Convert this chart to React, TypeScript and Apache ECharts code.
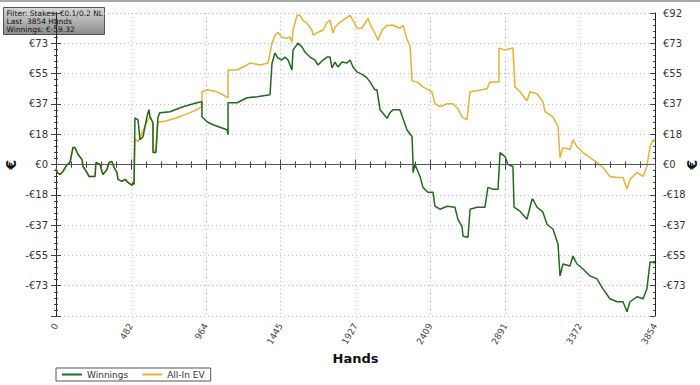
import React, { useEffect, useRef } from "react";
import * as echarts from "echarts";

const xTickLabels = ["0", "482", "964", "1445", "1927", "2409", "2891", "3372", "3854"];
const totalHands = 3854;
const yMax = 91.5;
const yStep = 18.3;

const earlyHands = [0, 6, 26, 45, 71, 90, 109, 122, 142, 167, 174, 199, 212, 251, 257, 283, 296, 302, 328, 341, 360, 373, 392, 399, 425, 444, 463, 489, 495, 502];
const earlyValues = [-2.4, -4.8, -6.0, -4.2, 0, 1.2, 10.2, 10.2, 6.0, 3.0, -1.2, -4.8, -7.2, -7.2, 1.2, 0, -4.2, -6.0, -3.0, 1.2, 1.8, -1.8, -4.8, -9.0, -10.2, -9.0, -10.8, -12.6, -10.8, -12];

const winHandsLate = [508, 528, 540, 560, 585, 598, 605, 624, 624, 643, 656, 669, 733, 817, 907, 939, 939, 972, 1010, 1100, 1107, 1107, 1165, 1229, 1293, 1377, 1390, 1409, 1428, 1454, 1473, 1493, 1518, 1525, 1557, 1583, 1602, 1634, 1666, 1686, 1718, 1744, 1763, 1776, 1795, 1814, 1840, 1872, 1892, 1911, 1937, 1975, 2001, 2020, 2052, 2065, 2085, 2130, 2149, 2168, 2213, 2258, 2291, 2297, 2297, 2310, 2342, 2361, 2393, 2426, 2438, 2471, 2516, 2567, 2586, 2612, 2619, 2651, 2664, 2709, 2760, 2779, 2812, 2844, 2857, 2889, 2908, 2940, 2947, 2985, 3030, 3063, 3069, 3095, 3133, 3159, 3198, 3230, 3243, 3262, 3307, 3326, 3352, 3391, 3436, 3481, 3519, 3564, 3610, 3648, 3674, 3693, 3738, 3777, 3802, 3822, 3854];
const winValuesLate = [28.2, 27.0, 15.0, 16.8, 28.8, 33.1, 28.8, 25.2, 7.2, 7.2, 28.8, 31.3, 31.9, 34.9, 37.3, 37.9, 28.8, 25.8, 24.0, 21.0, 18.0, 37.3, 37.3, 40.3, 40.9, 42.1, 61.3, 67.3, 64.3, 63.1, 64.9, 63.1, 57.1, 69.1, 73.3, 70.9, 67.9, 64.9, 63.1, 60.1, 63.1, 64.9, 64.9, 58.3, 61.9, 58.9, 61.9, 61.3, 63.1, 58.9, 55.9, 54.1, 52.3, 49.9, 45.1, 45.1, 33.1, 27.9, 31.3, 33.1, 33.1, 21.0, 16.8, 1.2, -4.8, 0, -7.2, -13.8, -16.8, -16.8, -25.2, -27.0, -25.2, -25.8, -33.1, -37.3, -43.3, -43.9, -27.0, -25.8, -25.8, -13.8, -15.0, -15.0, 7.2, 4.8, 0, -1.2, -25.8, -28.2, -33.1, -21.0, -21.0, -25.8, -28.8, -36.1, -39.1, -48.1, -67.3, -60.1, -61.3, -55.3, -60.1, -63.1, -67.3, -69.1, -75.1, -81.1, -82.9, -82.9, -88.9, -82.9, -79.9, -81.1, -75.1, -58.9, -59.32];

const evHandsLate = [508, 528, 540, 585, 605, 624, 624, 643, 656, 688, 779, 862, 907, 939, 939, 972, 1036, 1074, 1107, 1107, 1165, 1229, 1248, 1313, 1364, 1390, 1409, 1428, 1454, 1486, 1506, 1518, 1525, 1551, 1570, 1589, 1615, 1647, 1654, 1686, 1718, 1744, 1763, 1782, 1795, 1827, 1872, 1892, 1911, 1937, 1969, 1988, 2007, 2033, 2052, 2072, 2097, 2130, 2168, 2213, 2233, 2258, 2278, 2291, 2323, 2361, 2419, 2438, 2471, 2516, 2554, 2586, 2612, 2644, 2664, 2709, 2773, 2792, 2850, 2850, 2889, 2940, 2953, 2985, 3030, 3050, 3095, 3133, 3146, 3198, 3230, 3243, 3262, 3307, 3326, 3352, 3391, 3436, 3481, 3519, 3564, 3610, 3648, 3674, 3693, 3738, 3777, 3802, 3822, 3841, 3854];
const evValuesLate = [15.6, 13.8, 16.2, 25.8, 28.8, 25.0, 9.0, 7.8, 25.8, 25.8, 28.2, 31.3, 33.1, 34.9, 43.9, 45.1, 43.9, 42.1, 40.3, 57.1, 57.1, 60.1, 61.3, 60.1, 61.3, 73.3, 78.1, 79.9, 76.9, 76.3, 76.9, 73.9, 81.1, 90.1, 90.1, 87.1, 85.3, 81.1, 78.1, 79.9, 81.1, 85.9, 87.1, 79.3, 82.9, 85.9, 88.9, 90.1, 87.1, 82.3, 82.3, 85.3, 88.3, 82.3, 79.3, 75.1, 81.1, 84.1, 84.1, 82.3, 84.1, 75.7, 71.5, 50.5, 49.9, 46.9, 43.9, 36.7, 34.9, 36.7, 36.7, 33.7, 28.8, 27.0, 43.9, 44.5, 45.7, 49.9, 49.9, 70.3, 69.1, 70.3, 46.9, 43.9, 38.5, 43.9, 42.7, 37.9, 31.9, 28.8, 22.8, 4.2, 10.2, 9.0, 15.0, 10.8, 7.2, 4.2, 1.2, -1.8, -7.2, -7.8, -7.8, -15.0, -9.0, -4.8, -7.2, -1.2, 10.8, 15.0, 13.8];

const winHands = [...earlyHands, ...winHandsLate];
const winValues = [...earlyValues, ...winValuesLate];
const evHands = [...earlyHands, ...evHandsLate];
const evValues = [...earlyValues, ...evValuesLate];

const GREEN = "#1f6b1c";
const YELLOW = "#e8b132";

const zip = (xs: number[], ys: number[]) => xs.map((x, i) => [x, ys[i]]);

const euro = (v: number) => {
  const r = Math.round(Math.abs(v));
  if (r === 0) return "€0";
  return (v < 0 ? "-€" : "€") + r;
};

export default function App() {
  const ref = useRef<HTMLDivElement>(null);
  useEffect(() => {
    document.body.style.margin = "0";
    if (!ref.current) return;
    const chart = echarts.init(ref.current, undefined, { renderer: "svg" });
    const xInterval = totalHands / (xTickLabels.length - 1);
    const baseX = { type: "value" as const, min: 0, max: totalHands, interval: xInterval };
    const baseY = { type: "value" as const, min: -yMax, max: yMax, interval: yStep };
    const axisLine = { show: true, lineStyle: { color: "#222", width: 1 } };
    const tickStyle = { color: "#444" };
    const fontFamily = "DejaVu Sans, sans-serif";
    const plainX = (position: string) => ({
      ...baseX,
      position,
      axisLine,
      axisTick: { show: true, inside: true, length: 5, lineStyle: tickStyle },
      minorTick: { show: true, splitNumber: 5, length: 3, lineStyle: tickStyle },
      splitLine: { show: false },
      axisLabel: { show: false },
    });
    const plainY = (position: string) => ({
      ...baseY,
      position,
      axisLine,
      axisTick: { show: true, inside: true, length: 5, lineStyle: tickStyle },
      minorTick: { show: true, splitNumber: 5, length: 2, lineStyle: tickStyle },
      splitLine: { show: false },
      axisLabel: { show: false },
    });
    chart.setOption({
      animation: false,
      backgroundColor: "#ffffff",
      grid: { left: 56, right: 45, top: 13, bottom: 69, containLabel: false, outerBoundsMode: "none" },
      xAxis: [
        {
          ...baseX,
          position: "bottom",
          axisLine,
          axisTick: { show: true, length: 5, lineStyle: tickStyle },
          minorTick: { show: true, splitNumber: 5, length: 3, lineStyle: tickStyle },
          splitLine: { show: true, lineStyle: { color: "#bbb", type: [1, 3] } },
          axisLabel: {
            rotate: 60,
            fontSize: 9,
            color: "#444",
            fontFamily,
            margin: 8,
            formatter: (v: number) => String(Math.round(v)),
          },
          name: "Hands",
          nameLocation: "middle",
          nameGap: 36,
          nameMoveOverlap: false,
          nameTextStyle: { fontSize: 13, fontWeight: "bold", color: "#111", fontFamily },
        },
        plainX("bottom"),
        plainX("top"),
      ],
      yAxis: [
        {
          ...baseY,
          position: "left",
          axisLine,
          axisTick: { show: true, length: 5, lineStyle: tickStyle },
          minorTick: { show: true, splitNumber: 5, length: 2, lineStyle: tickStyle },
          splitLine: { show: true, lineStyle: { color: "#bbb", type: [1, 3] } },
          axisLabel: {
            fontSize: 10,
            color: "#333",
            fontFamily,
            margin: 8,
            showMinLabel: false,
            showMaxLabel: false,
            formatter: euro,
          },
          name: "€",
          nameLocation: "middle",
          nameGap: 38,
          nameRotate: 90,
          nameMoveOverlap: false,
          nameTextStyle: { fontSize: 14, fontWeight: "bold", color: "#111", fontFamily },
        },
        plainY("left"),
        {
          ...baseY,
          position: "right",
          axisLine,
          axisTick: { show: true, length: 5, lineStyle: tickStyle },
          minorTick: { show: true, splitNumber: 5, length: 2, lineStyle: tickStyle },
          splitLine: { show: false },
          axisLabel: {
            fontSize: 10,
            color: "#333",
            fontFamily,
            margin: 8,
            showMinLabel: false,
            formatter: euro,
          },
          name: "€",
          nameLocation: "middle",
          nameGap: 30,
          nameRotate: 90,
          nameMoveOverlap: false,
          nameTextStyle: { fontSize: 14, fontWeight: "bold", color: "#111", fontFamily },
        },
        plainY("right"),
      ],
      legend: {
        left: 56,
        top: 368,
        orient: "horizontal",
        borderColor: "#555",
        borderWidth: 1,
        padding: [2, 6, 2, 6],
        itemGap: 14,
        itemWidth: 20,
        itemHeight: 2,
        icon: "rect",
        textStyle: { fontSize: 9, color: "#333", fontFamily },
        data: ["Winnings", "All-In EV"],
      },
      series: [
        {
          name: "All-In EV",
          type: "line",
          xAxisIndex: 0,
          yAxisIndex: 0,
          data: zip(evHands, evValues),
          symbol: "none",
          lineStyle: { color: YELLOW, width: 1.5 },
          itemStyle: { color: YELLOW },
          z: 3,
          markLine: {
            silent: true,
            symbol: "none",
            label: { show: false },
            lineStyle: { color: "#555", type: "solid", width: 1 },
            data: [{ yAxis: 0 }],
          },
        },
        {
          name: "Winnings",
          type: "line",
          xAxisIndex: 0,
          yAxisIndex: 0,
          data: zip(winHands, winValues),
          symbol: "none",
          lineStyle: { color: GREEN, width: 1.5 },
          itemStyle: { color: GREEN },
          z: 4,
        },
      ],
      graphic: [
        {
          type: "rect",
          left: 0,
          top: 0,
          shape: { width: 700, height: 2 },
          style: { fill: "#a8a8a8" },
          z: 100,
        },
        {
          type: "group",
          left: 3,
          top: 7,
          z: 100,
          children: [
            {
              type: "rect",
              shape: { x: 0, y: 0, width: 101, height: 27 },
              style: {
                fill: new echarts.graphic.LinearGradient(0, 0, 0, 1, [
                  { offset: 0, color: "#d8d8d8" },
                  { offset: 1, color: "#8c8c8c" },
                ]),
                stroke: "#555",
                lineWidth: 1,
              },
            },
            {
              type: "text",
              x: 3,
              y: 1.5,
              style: {
                text: "Filter: Stakes: €0.1/0.2 NL\nLast  3854 Hands\nWinnings: €-59.32",
                fontSize: 7.5,
                lineHeight: 8,
                fill: "#111",
                fontFamily,
              },
            },
          ],
        },
      ],
    });
    return () => chart.dispose();
  }, []);
  return <div ref={ref} style={{ width: 700, height: 385 }} />;
}
